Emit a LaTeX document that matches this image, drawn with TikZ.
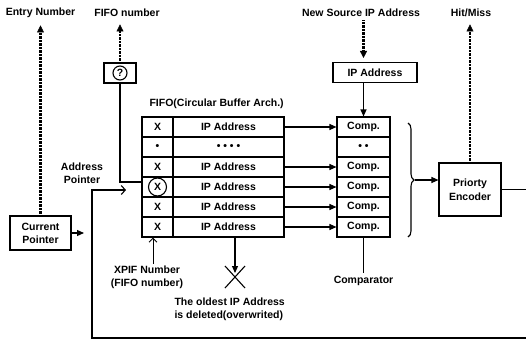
\documentclass[tikz,border=0pt]{standalone}
\usepackage{fontspec}
\setmainfont{Liberation Sans}
\usetikzlibrary{arrows.meta,decorations.pathreplacing,positioning}
\tikzset{
  box/.style={draw, line width=1.1pt, inner sep=0pt, align=center},
  cell/.style={box, minimum height=20pt},
  arr/.style={line width=1.1pt, -{Triangle[length=7pt,width=6pt]}},
  barb/.style={line width=1.1pt, -{Straight Barb[length=4pt,width=9pt]}},
  hatch/.style={line width=2.2pt, dash pattern=on 0.7pt off 0.7pt, shorten >=4pt,
    -{Triangle[length=7pt,width=7pt,line width=0.4pt]}},
}
\begin{document}
\begin{tikzpicture}[x=1pt, y=-1pt, font=\fontsize{10.5}{13}\selectfont\bfseries]
  \useasboundingbox (0,0) rectangle (526,340);
  % FIFO table and comparators
  \foreach \i/\a/\b/\c in {1/X/IP Address/Comp.,
      2/{\textbullet}/{\textbullet\ \textbullet\ \textbullet\ \textbullet}/{\textbullet\ \textbullet},
      3/X/IP Address/Comp., 4/X/IP Address/Comp.,
      5/X/IP Address/Comp., 6/X/IP Address/Comp.}{
    \node [cell, minimum width=31pt] (x\i) at (157.5,107+20*\i) {\a};
    \node [cell, minimum width=111pt] (ip\i) at (228.5,107+20*\i) {\b};
    \node [cell, minimum width=53pt] (comp\i) at (363.5,107+20*\i) {\c};
  }
  \foreach \i in {1,3,4,5,6}
    \draw [arr] (ip\i.east) -- (comp\i.west);
  \draw [line width=1.1pt] (x4.center) circle (9pt);
  \node [anchor=west] (title) at (146,104) {FIFO(Circular Buffer Arch.)};

  \node [box, minimum width=84pt, minimum height=20pt] (ipbox) at (375,72.5) {IP Address};
  \node (newsrc) at (361,13) {New Source IP Address};
  \draw [hatch] (newsrc.south -| comp1.north) -- (ipbox.north -| comp1.north);
  \draw [arr] (ipbox.south -| comp1.north) -- (comp1.north);

  \node (cmpl) at (363.5,281) {Comparator};
  \draw [line width=1.1pt] (comp6.south) -- (cmpl.north);

  % priority encoder
  \draw [line width=1.1pt, decorate, decoration={brace, amplitude=6pt}] (408,123) -- (408,237);
  \coordinate (bt) at (415,180);
  \node [box, minimum width=62pt, minimum height=53pt, font=\fontsize{10.5}{14}\selectfont\bfseries] (enc) at (470,189.5) {Priorty\\Encoder};
  \draw [arr] (bt) -- (bt -| enc.west);
  \node (hit) at (471,13) {Hit/Miss};
  \draw [hatch] (enc.north) -- (enc.north |- hit.south);
  \coordinate (rend) at (526,189.5);
  \draw [line width=1.1pt] (enc.east) -- (rend);

  % pointers
  \node [box, minimum width=61pt, minimum height=34pt] (cur) at (40.5,233) {Current\\Pointer};
  \node (entry) at (40.5,13) {Entry Number};
  \draw [hatch] (cur.north) -- (cur.north |- entry.south);
  \coordinate (cptip) at (84,233);
  \draw [arr] (cur.east) -- (cptip);

  \node [box, minimum width=32pt, minimum height=20pt] (qbox) at (120,73) {?};
  \draw [line width=1.1pt] (qbox.center) circle (7pt);
  \node (fifo) at (127,13) {FIFO number};
  \draw [hatch] (qbox.north) -- (qbox.north |- fifo.south);
  \draw [line width=1.1pt] (qbox.south) |- ([yshift=5pt]x4.west);

  \node [align=center] (adp) at (82,173.5) {Address\\Pointer};
  \coordinate (ptin) at (126,190);
  \coordinate (bl) at (92,338);
  \coordinate (br) at (526,338);
  \draw [barb] (br) -- (bl) -- (bl |- ptin) -- (ptin);

  % XPIF number and oldest entry
  \coordinate (xp) at (153,264);
  \draw [line width=0.9pt, -{Straight Barb[length=4pt,width=8pt]}] (xp) -- (xp |- x6.south);
  \node [align=center] (xpif) at (147,277.5) {XPIF Number\\(FIFO number)};
  \coordinate (del) at (235,273);
  \draw [arr] (ip6.south -| del) -- (del);
  \draw [line width=1.1pt] (225,266) -- (245,288) (245,266) -- (225,288);
  \node [align=left, anchor=north west] (old) at (171,294) {The oldest IP Address\\is deleted(overwrited)};
\end{tikzpicture}
\end{document}
